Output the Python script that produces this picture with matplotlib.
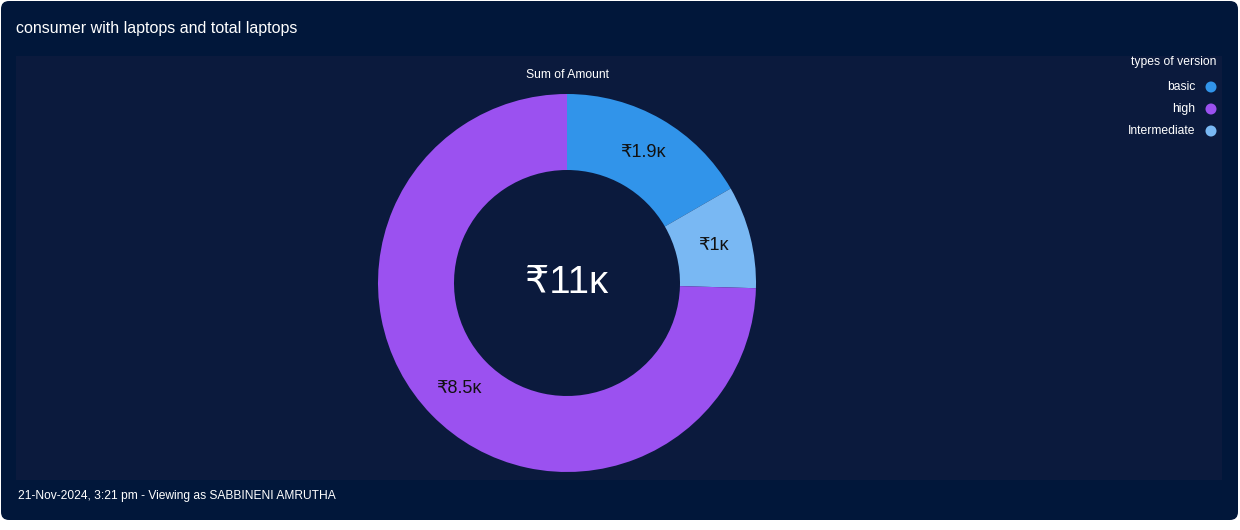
import matplotlib
matplotlib.use("Agg")
import matplotlib.pyplot as plt
from matplotlib.patches import FancyBboxPatch, Rectangle, Circle
import numpy as np

categories = ["basic", "Intermediate", "high"]
values = [1.9, 1.0, 8.5]          # thousands of rupees
labels = ["₹1.9ᴋ", "₹1ᴋ", "₹8.5ᴋ"]
center_label = "₹11ᴋ"
legend_order = ["basic", "high", "Intermediate"]
colors = {"basic": "#3194ea", "high": "#9b51f0", "Intermediate": "#79b8f3"}

W, H = 1240, 530
fig = plt.figure(figsize=(W / 100, H / 100), dpi=100)
fig.patch.set_facecolor("white")
FONT = ["Liberation Sans", "DejaVu Sans"]

bg = fig.add_axes([0, 0, 1, 1])
bg.set_xlim(0, W); bg.set_ylim(H, 0); bg.axis("off")
bg.add_patch(FancyBboxPatch((1, 1), W - 3, H - 11, boxstyle="round,pad=0,rounding_size=8",
                            facecolor="#01173a", edgecolor="none"))
bg.add_patch(Rectangle((16, 56), 1206, 424, facecolor="#0b1a3d", edgecolor="none"))
bg.text(16, 28, "consumer with laptops and total laptops", color="white", fontsize=11.5,
        family=FONT, va="center", ha="left")
bg.text(18, 496, "21-Nov-2024, 3:21 pm - Viewing as SABBINENI AMRUTHA", color="white",
        fontsize=8.65, family=FONT, va="center", ha="left")
bg.text(567, 75, "Sum of Amount", color="white", fontsize=8.7, family=FONT, va="center", ha="center")

# legend
bg.text(1216, 62, "types of version", color="white", fontsize=8.7, family=FONT, va="center", ha="right")
for i, cat in enumerate(legend_order):
    y = 87 + 22 * i
    bg.add_patch(Circle((1211, y), 5.5, facecolor=colors[cat], edgecolor="none"))
    bg.text(1195, y, cat, color="white", fontsize=8.7, family=FONT, va="center", ha="right")

# donut
cx, cy = 567, H - 283
ax = fig.add_axes([(cx - 200) / W, (cy - 200) / H, 400 / W, 400 / H])
R = 189
RIN = 113
wedges, _ = ax.pie(values, colors=[colors[c] for c in categories], startangle=90,
                   counterclock=False, radius=R,
                   wedgeprops=dict(width=R - RIN, edgecolor="none"))
ax.set_xlim(-200, 200); ax.set_ylim(-200, 200); ax.set_aspect("equal"); ax.axis("off")
rmid = (R + RIN) / 2
for w, lab in zip(wedges, labels):
    a = np.deg2rad((w.theta1 + w.theta2) / 2)
    ax.text(rmid * np.cos(a), rmid * np.sin(a), lab, color="#111111", fontsize=13,
            family=FONT, ha="center", va="center")
ax.text(0, 0, center_label, color="white", fontsize=27.5, family=FONT, ha="center", va="center")

fig.savefig("out.png", dpi=100, facecolor=fig.get_facecolor())
